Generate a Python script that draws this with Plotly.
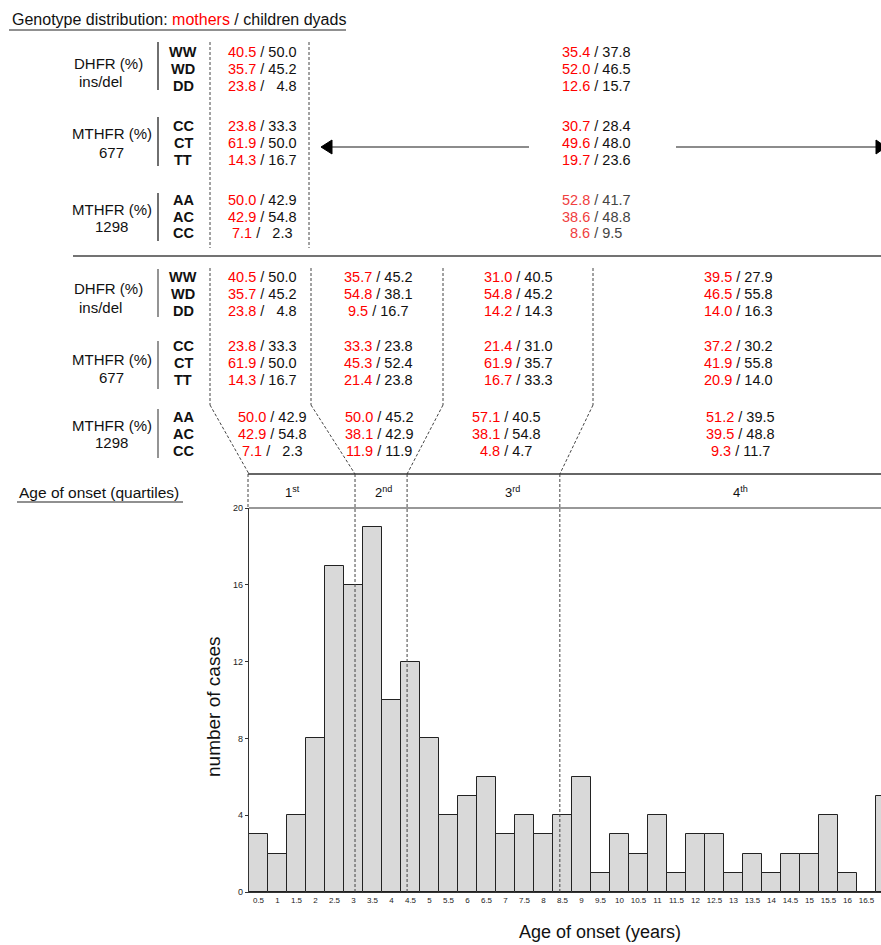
import plotly.graph_objects as go

# ---------------- data ----------------
age_bins = [0.5 * (i + 1) for i in range(34)]          # 0.5 ... 17 years
case_counts = [3, 2, 4, 8, 17, 16, 19, 10, 12, 8, 4, 5, 6, 3, 4, 3, 4,
               6, 1, 3, 2, 4, 1, 3, 3, 1, 2, 1, 2, 2, 4, 1, 0, 5]
y_ticks = [0, 4, 8, 12, 16, 20]
quartile_cuts = [3.04, 4.41, 8.43]                     # years
quartile_labels = ["1<sup>st</sup>", "2<sup>nd</sup>", "3<sup>rd</sup>", "4<sup>th</sup>"]

gene_names = ["DHFR (%)", "MTHFR (%)", "MTHFR (%)"]
gene_sub = ["ins/del", "677", "1298"]
genotypes = ["WW", "WD", "DD", "CC", "CT", "TT", "AA", "AC", "CC"]

# overall panel: left = reference group, right = others
top_left_mothers = [40.5, 35.7, 23.8, 23.8, 61.9, 14.3, 50.0, 42.9, 7.1]
top_left_children = [50.0, 45.2, 4.8, 33.3, 50.0, 16.7, 42.9, 54.8, 2.3]
top_right_mothers = [35.4, 52.0, 12.6, 30.7, 49.6, 19.7, 52.8, 38.6, 8.6]
top_right_children = [37.8, 46.5, 15.7, 28.4, 48.0, 23.6, 41.7, 48.8, 9.5]

# per quartile
q1_mothers = [40.5, 35.7, 23.8, 23.8, 61.9, 14.3, 50.0, 42.9, 7.1]
q1_children = [50.0, 45.2, 4.8, 33.3, 50.0, 16.7, 42.9, 54.8, 2.3]
q2_mothers = [35.7, 54.8, 9.5, 33.3, 45.3, 21.4, 50.0, 38.1, 11.9]
q2_children = [45.2, 38.1, 16.7, 23.8, 52.4, 23.8, 45.2, 42.9, 11.9]
q3_mothers = [31.0, 54.8, 14.2, 21.4, 61.9, 16.7, 57.1, 38.1, 4.8]
q3_children = [40.5, 45.2, 14.3, 31.0, 35.7, 33.3, 40.5, 54.8, 4.7]
q4_mothers = [39.5, 46.5, 14.0, 37.2, 41.9, 20.9, 51.2, 39.5, 9.3]
q4_children = [27.9, 55.8, 16.3, 30.2, 55.8, 14.0, 39.5, 48.8, 11.7]

# ---------------- layout helpers ----------------
FIG_W, FIG_H = 881, 945
L, R, T, B = 249, 881, 508, 892
W, H = R - L, B - T
X_MIN = 0.25
X_MAX = X_MIN + W / 38.0
FONT = "Arial, 'Liberation Sans', sans-serif"
RED = "#ff0000"
DARK = "#111111"


def px(x):
    return (x - L) / W


def py(y):
    return (B - y) / H


def data_to_px(v):
    return L + (v - X_MIN) / (X_MAX - X_MIN) * W


annotations = []
shapes = []


def text(x, y, s, size=14.5, color=DARK, anchor="center", angle=0, bold=False):
    if bold:
        s = "<b>" + s + "</b>"
    annotations.append(dict(x=px(x), y=py(y), xref="paper", yref="paper", text=s,
                            showarrow=False, xanchor=anchor, yanchor="middle",
                            textangle=angle,
                            font=dict(family=FONT, size=size, color=color)))


def line(x0, y0, x1, y1, color="#333", width=1.2, dash="solid"):
    shapes.append(dict(type="line", xref="paper", yref="paper",
                       x0=px(x0), y0=py(y0), x1=px(x1), y1=py(y1),
                       line=dict(color=color, width=width, dash=dash)))


def poly(points, color):
    d = "M " + " L ".join(f"{px(a):.5f},{py(b):.5f}" for a, b in points) + " Z"
    shapes.append(dict(type="path", xref="paper", yref="paper", path=d,
                       fillcolor=color, line=dict(color=color, width=1)))


def cell(m, c, pad=False, red=RED, dark=DARK):
    cs = f"{c:.1f}"
    if pad and c < 10:
        cs = "\u00a0\u00a0" + cs
    return f'<span style="color:{red}">{m:.1f}</span><span style="color:{dark}"> / {cs}</span>'


# ---------------- titles ----------------
text(10, 20, 'Genotype distribution: <span style="color:#ff0000">mothers</span> / children dyads',
     size=16, anchor="left")
line(9, 30, 346, 30, color="#222", width=1.2)
text(17, 492, "Age of onset (quartiles)", size=15.5, anchor="left")
line(17, 502, 183, 502, color="#222", width=1.2)

# ---------------- row labels (both panels) ----------------
rows_top = [52, 69, 86, 126, 143, 160, 200, 217, 233]
rows_bot = [277, 294, 311, 346, 363, 380, 417, 434, 451]
name_y_top = [(63, 81), (133, 152), (209, 226)]
name_y_bot = [(288, 307), (359, 377), (425, 442)]
name_x = [(108, 100), (112, 111), (112, 111)]
bars_top = [(42, 90), (117, 166), (193, 241)]
bars_bot = [(269, 317), (341, 389), (409, 458)]

for g in range(3):
    for (ny, sy) in (name_y_top[g], name_y_bot[g]):
        text(name_x[g][0], ny, gene_names[g], size=15)
        text(name_x[g][1], sy, gene_sub[g], size=15)
    line(158, bars_top[g][0], 158, bars_top[g][1], color="#222", width=1.3)
    line(158, bars_bot[g][0], 158, bars_bot[g][1], color="#888", width=1.8)

for i, gt in enumerate(genotypes):
    text(183, rows_top[i], gt, size=14.5, bold=True)
    text(183, rows_bot[i], gt, size=14.5, bold=True)

# ---------------- top panel values ----------------
for i in range(9):
    text(262, rows_top[i], cell(top_left_mothers[i], top_left_children[i], pad=True))
    if i >= 6:
        text(596, rows_top[i], cell(top_right_mothers[i], top_right_children[i],
                                    red="#f04040", dark="#444444"))
    else:
        text(596, rows_top[i], cell(top_right_mothers[i], top_right_children[i]))

line(210, 42, 210, 248, color="#444", width=1, dash="3px,2px")
line(309, 42, 309, 248, color="#444", width=1, dash="3px,2px")

# arrows
line(331, 147, 529, 147, color="#666", width=1.5)
poly([(321, 147), (332, 140), (332, 154)], "#000")
line(676, 147, 876, 147, color="#666", width=1.5)
poly([(886, 147), (876, 140), (876, 154)], "#000")

# separator
line(73, 256, 881, 256, color="#444", width=1.5)

# ---------------- bottom panel values ----------------
q_m = [q1_mothers, q2_mothers, q3_mothers, q4_mothers]
q_c = [q1_children, q2_children, q3_children, q4_children]
col_x_upper = [262, 378, 518, 738]
col_x_lower = [272, 379, 506, 740]
for q in range(4):
    for i in range(9):
        x = col_x_upper[q] if i < 6 else col_x_lower[q]
        text(x, rows_bot[i], cell(q_m[q][i], q_c[q][i], pad=(q == 0)))

# funnel lines
cut_px = [L] + [data_to_px(v) for v in quartile_cuts]
top_px = [210, 311, 443, 593]
for xt, xb in zip(top_px, cut_px):
    line(xt, 268, xt, 405, color="#444", width=1, dash="3px,2px")
    line(xt, 405, xb, 474, color="#444", width=1, dash="3px,2px")

# quartile strip
line(248, 474, 881, 474, color="#333", width=1.4)
line(248, 474, 248, 508, color="#444", width=1, dash="3px,2px")
for xb in cut_px[1:]:
    line(xb, 474, xb, 892, color="#444", width=1, dash="3px,2px")
q_label_x = [292, 383, 512, 740]
for s, x in zip(quartile_labels, q_label_x):
    text(x, 492, s, size=13)

# plot frame top
line(L, T, R, T, color="#333", width=1.2)

# axis titles
text(213, 707, "number of cases", size=19, angle=-90)
text(600, 932, "Age of onset (years)", size=18)

# ---------------- figure ----------------
fig = go.Figure(go.Bar(
    x=age_bins, y=case_counts, width=0.5,
    marker=dict(color="#d9d9d9", line=dict(color="#222", width=1)),
))

tick_text = [("%g" % v) for v in age_bins]
fig.update_layout(
    width=FIG_W, height=FIG_H,
    margin=dict(l=L, r=FIG_W - R, t=T, b=FIG_H - B, pad=0),
    paper_bgcolor="white", plot_bgcolor="white",
    showlegend=False, bargap=0,
    font=dict(family=FONT, color=DARK),
    xaxis=dict(range=[X_MIN, X_MAX], tickmode="array", tickvals=age_bins,
               ticktext=tick_text, showgrid=False, zeroline=False,
               showline=True, linecolor="#333", linewidth=1.2,
               ticks="", tickfont=dict(size=8, color="#222")),
    yaxis=dict(range=[0, 20], tickmode="array", tickvals=y_ticks,
               showgrid=False, zeroline=False, showline=True,
               linecolor="#333", linewidth=1.2, ticks="outside", ticklen=3,
               tickcolor="#333", tickfont=dict(size=9, color="#222")),
    annotations=annotations, shapes=shapes,
)

fig.write_html("out.html", config={"displayModeBar": False},
               post_script="document.body.style.margin='0';document.body.style.overflow='hidden';")
